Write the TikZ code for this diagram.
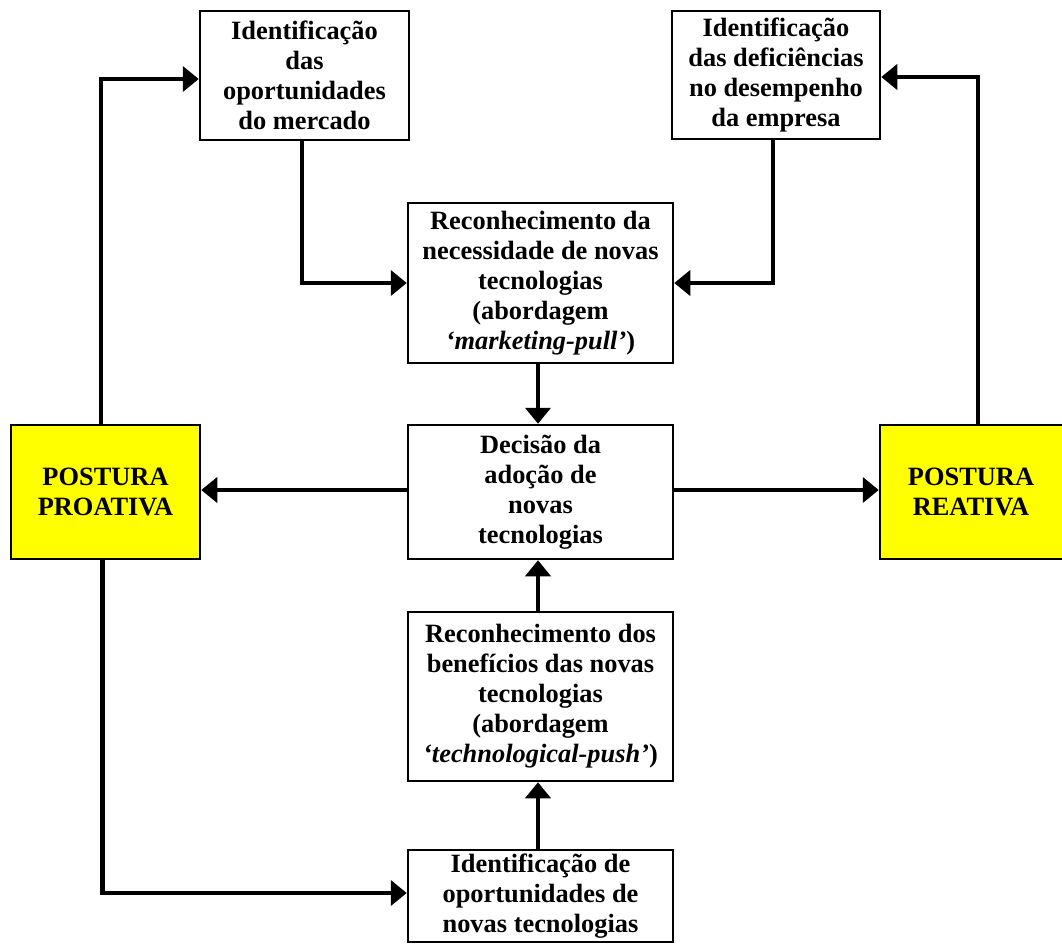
\documentclass[tikz,border=0pt]{standalone}
\usepackage{fontspec}
\setmainfont{Liberation Serif}
\usetikzlibrary{arrows.meta}
\definecolor{postura}{RGB}{255,255,0}
\tikzset{
  x=1pt, y=1pt,
  box/.style={draw=black, line width=2.5pt, fill=white, inner sep=0pt, rectangle},
  yellowbox/.style={box, fill=postura},
  boxtext/.style={align=center, inner sep=0pt, font=\fontsize{26.4}{30}\selectfont\bfseries},
  conn/.style={line width=4.5pt, -{Triangle[length=16pt,width=25pt]}}
}
\begin{document}
\begin{tikzpicture}
\useasboundingbox (0,0) rectangle (1062,-943);
\clip (0,0) rectangle (1062,-943);

% boxes
\node[box, minimum width=209pt, minimum height=129pt] (opm) at (304.5,-75.5) {};
\node[box, minimum width=208pt, minimum height=128pt] (def) at (776,-75) {};
\node[box, minimum width=265pt, minimum height=160pt] (nec) at (540.5,-283) {};
\node[box, minimum width=265pt, minimum height=134pt] (dec) at (540.5,-492) {};
\node[box, minimum width=265pt, minimum height=169pt] (ben) at (540.5,-696.5) {};
\node[box, minimum width=265pt, minimum height=92pt] (opt) at (540.5,-896) {};
\node[yellowbox, minimum width=189pt, minimum height=134pt] (pro) at (105.5,-492) {};
\node[yellowbox, minimum width=190pt, minimum height=134pt] (rea) at (975,-492) {};

% texts
\node[boxtext] (opmT) at (opm) {Identificação\\das\\oportunidades\\do mercado};
\node[boxtext] (defT) at (def) {Identificação\\das deficiências\\no desempenho\\da empresa};
\node[boxtext] (necT) at (nec) {Reconhecimento da\\necessidade de novas\\tecnologias\\(abordagem\\\textit{‘marketing-pull’})};
\node[boxtext] (decT) at (dec) {Decisão da\\adoção de\\novas\\tecnologias};
\node[boxtext] (benT) at (ben) {Reconhecimento dos\\benefícios das novas\\tecnologias\\(abordagem\\\textit{‘technological-push’})};
\node[boxtext] (optT) at (opt) {Identificação de\\oportunidades de\\novas tecnologias};
\node[boxtext] (proT) at (pro) {POSTURA\\PROATIVA};
\node[boxtext] (reaT) at ([xshift=-4pt]rea.center) {POSTURA\\REATIVA};

% connectors
\draw[conn] ([xshift=-4.5pt]pro.north) |- ([yshift=-3.5pt]opm.west);
\draw[conn] ([xshift=3pt]rea.north) |- ([yshift=-2pt]def.east);
\draw[conn] ([xshift=-2.5pt]opm.south) |- (nec.west);
\draw[conn] ([xshift=-3pt]def.south) |- (nec.east);
\draw[conn] ([xshift=-2.5pt]nec.south) -- ([xshift=-2.5pt]dec.north);
\draw[conn] ([yshift=2pt]dec.west) -- ([yshift=2pt]pro.east);
\draw[conn] ([yshift=2pt]dec.east) -- ([yshift=2pt]rea.west);
\draw[conn] ([xshift=-2.5pt]ben.north) -- ([xshift=-2.5pt]dec.south);
\draw[conn] ([xshift=-2.5pt]opt.north) -- ([xshift=-2.5pt]ben.south);
\draw[conn] ([xshift=-3pt]pro.south) |- ([yshift=3pt]opt.west);
\end{tikzpicture}
\end{document}
